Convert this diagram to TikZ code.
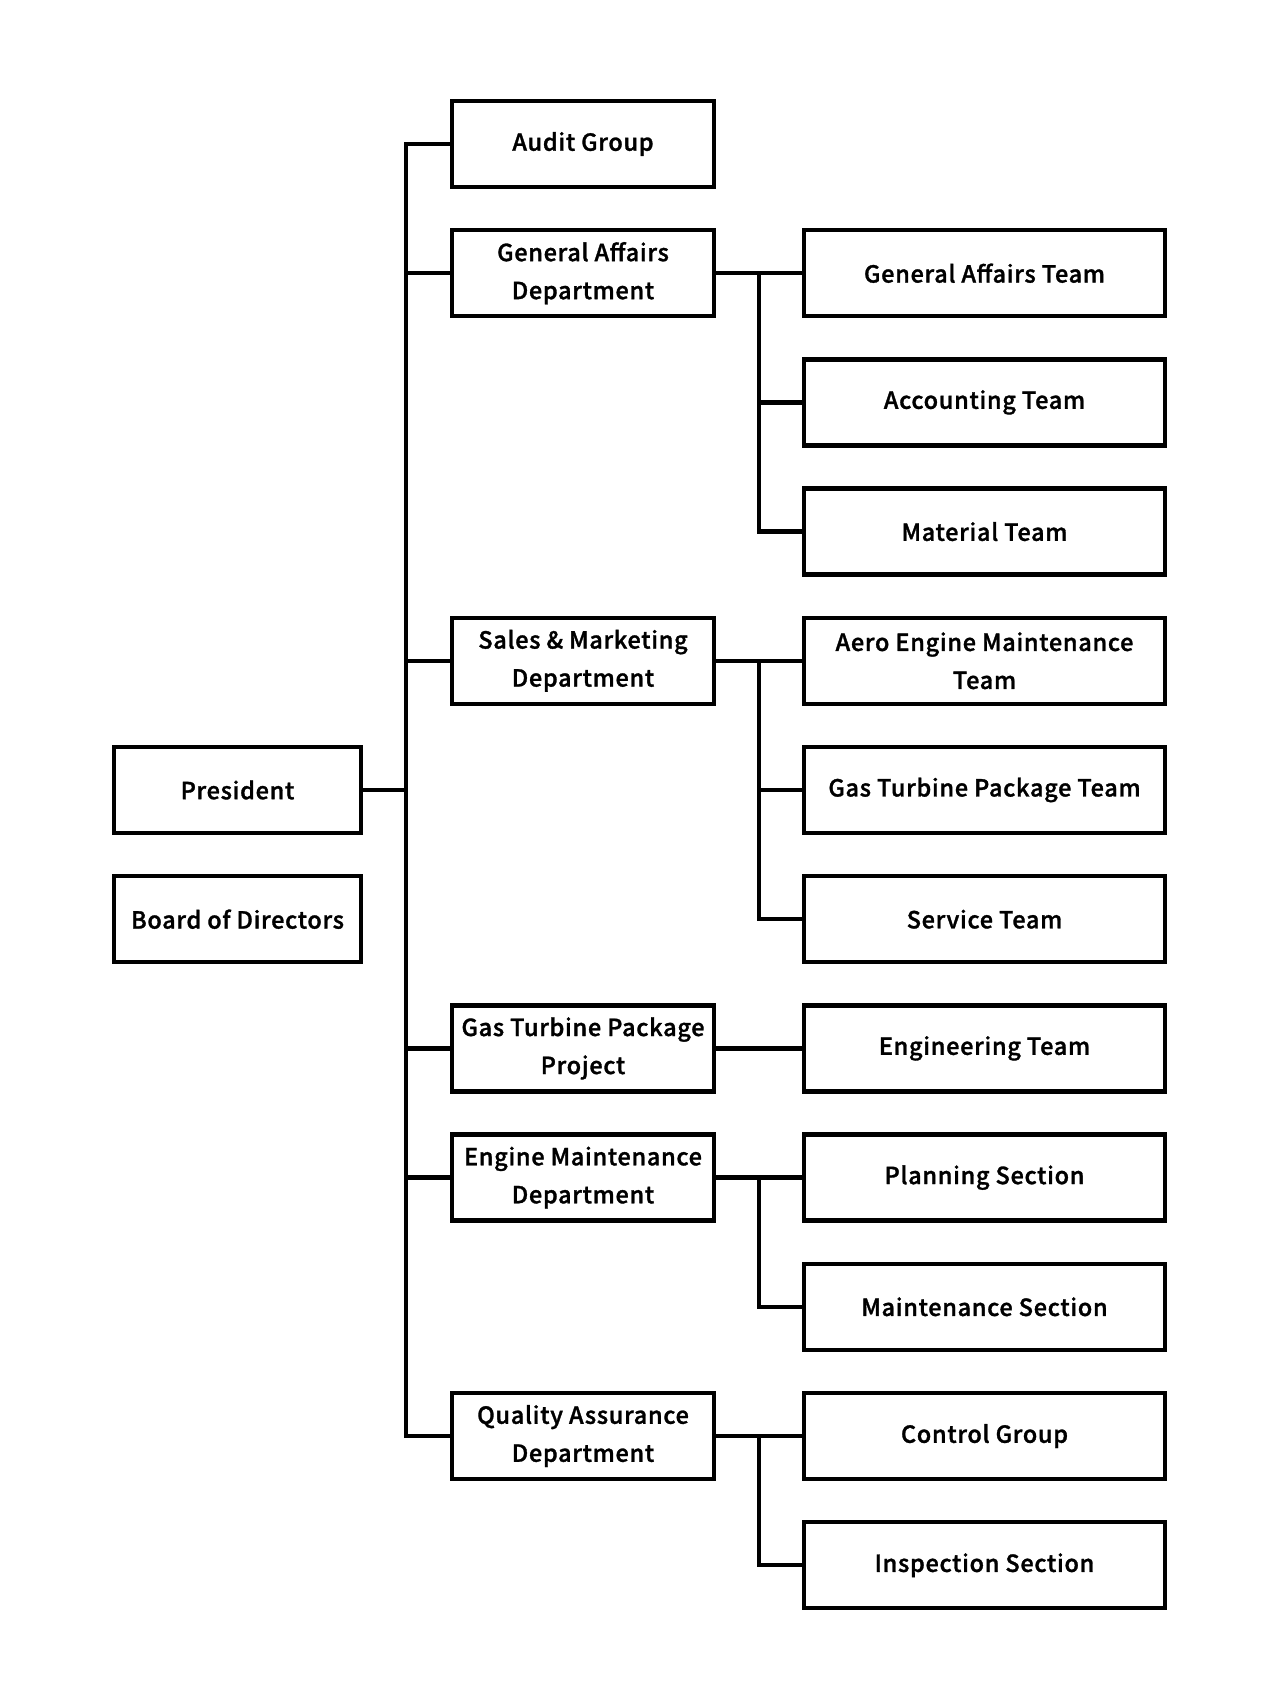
\documentclass[tikz,border=0pt]{standalone}
\usepackage{fontspec}
\setmainfont{Noto Sans CJK JP Medium}[FakeBold=1.3, LetterSpace=3]
\begin{document}
\begin{tikzpicture}[x=1pt,y=-1pt,
  box/.style={draw=black, line width=4.5pt, inner sep=0pt, align=center,
    minimum height=86pt, font=\fontsize{23.5}{38}\selectfont},
  leftbox/.style={box, minimum width=247pt},
  midbox/.style={box, minimum width=262pt},
  rightbox/.style={box, minimum width=361pt},
  conn/.style={line width=4.5pt, line join=miter}]
\useasboundingbox (0,0) rectangle (1280,1707);
\fill[white] (0,0) rectangle (1280,1707);
\def\r#1{144+129.2*#1}
% trunks
\coordinate (T) at (406,0);
\coordinate (S) at (759,0);
% left
\node[leftbox] (pres) at (237.5,{\r{5}}) {President};
\node[leftbox] (board) at (237.5,{\r{6}}) {Board of Directors};
% middle
\node[midbox] (audit) at (583,{\r{0}}) {Audit Group};
\node[midbox] (ga) at (583,{\r{1}}) {General Affairs\\Department};
\node[midbox] (sales) at (583,{\r{4}}) {Sales \& Marketing\\Department};
\node[midbox] (gtpp) at (583,{\r{7}}) {Gas Turbine Package\\Project};
\node[midbox] (em) at (583,{\r{8}}) {Engine Maintenance\\Department};
\node[midbox] (qa) at (583,{\r{10}}) {Quality Assurance\\Department};
% right
\node[rightbox] (gat) at (984.5,{\r{1}}) {General Affairs Team};
\node[rightbox] (acc) at (984.5,{\r{2}}) {Accounting Team};
\node[rightbox] (mat) at (984.5,{\r{3}}) {Material Team};
\node[rightbox] (aero) at (984.5,{\r{4}}) {Aero Engine Maintenance\\Team};
\node[rightbox] (gtpt) at (984.5,{\r{5}}) {Gas Turbine Package Team};
\node[rightbox] (serv) at (984.5,{\r{6}}) {Service Team};
\node[rightbox] (eng) at (984.5,{\r{7}}) {Engineering Team};
\node[rightbox] (plan) at (984.5,{\r{8}}) {Planning Section};
\node[rightbox] (maint) at (984.5,{\r{9}}) {Maintenance Section};
\node[rightbox] (ctrl) at (984.5,{\r{10}}) {Control Group};
\node[rightbox] (insp) at (984.5,{\r{11}}) {Inspection Section};
% main trunk
\draw[conn] (audit.west) -- (audit.west -| T) -- (qa.west -| T) -- (qa.west);
\draw[conn] (pres.east) -- (pres.east -| T);
\draw[conn] (ga.west) -- (ga.west -| T);
\draw[conn] (sales.west) -- (sales.west -| T);
\draw[conn] (gtpp.west) -- (gtpp.west -| T);
\draw[conn] (em.west) -- (em.west -| T);
% general affairs
\draw[conn] (ga.east) -- (gat.west);
\draw[conn] (ga.east -| S) -- (mat.west -| S) -- (mat.west);
\draw[conn] (acc.west) -- (acc.west -| S);
% sales
\draw[conn] (sales.east) -- (aero.west);
\draw[conn] (sales.east -| S) -- (serv.west -| S) -- (serv.west);
\draw[conn] (gtpt.west) -- (gtpt.west -| S);
% gtp project
\draw[conn] (gtpp.east) -- (eng.west);
% engine maintenance
\draw[conn] (em.east) -- (plan.west);
\draw[conn] (em.east -| S) -- (maint.west -| S) -- (maint.west);
% quality assurance
\draw[conn] (qa.east) -- (ctrl.west);
\draw[conn] (qa.east -| S) -- (insp.west -| S) -- (insp.west);
\end{tikzpicture}
\end{document}
